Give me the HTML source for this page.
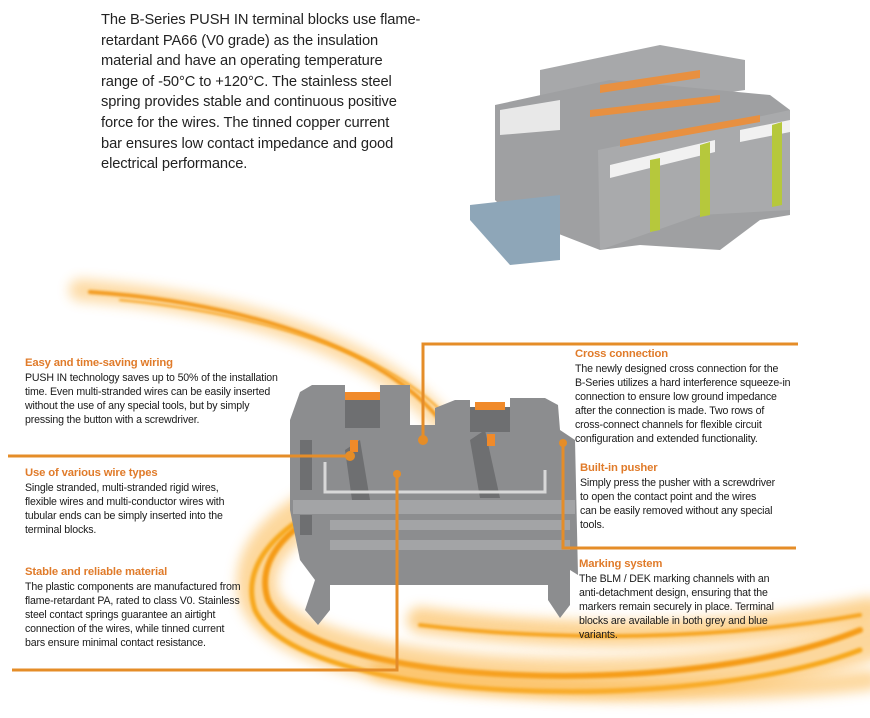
<!DOCTYPE html>
<html><head><meta charset="utf-8"><style>
body{margin:0;background:#fff;}
#w{position:relative;width:870px;height:718px;overflow:hidden;background:#fff;font-family:"Liberation Sans",sans-serif;}
.intro{position:absolute;left:101px;top:10px;font-size:14.7px;line-height:20.6px;color:#222;white-space:nowrap;letter-spacing:-0.1px;}
.b{position:absolute;font-size:10.6px;line-height:14px;color:#1a1a1a;white-space:nowrap;letter-spacing:-0.15px;}
.b h{display:block;color:#e07b2a;font-weight:bold;font-size:11.3px;line-height:14px;margin-bottom:1px;}
svg{position:absolute;left:0;top:0}
</style></head><body><div id="w">
<svg width="870" height="718" viewBox="0 0 870 718">
<defs>
<filter id="bl" filterUnits="userSpaceOnUse" x="0" y="0" width="870" height="718"><feGaussianBlur stdDeviation="6"/></filter>
<filter id="bl2" filterUnits="userSpaceOnUse" x="0" y="0" width="870" height="718"><feGaussianBlur stdDeviation="1.2"/></filter>
</defs>
<g fill="none" stroke-linecap="round">
<path d="M80 290 C200 300 360 330 440 420" stroke="#fbb03b" stroke-width="22" opacity=".45" filter="url(#bl)"/>
<path d="M90 292 C210 300 370 335 440 420" stroke="#f39a1e" stroke-width="4" filter="url(#bl2)"/>
<path d="M120 300 C240 312 380 345 445 415" stroke="#f7a21b" stroke-width="2" filter="url(#bl2)"/>
<path d="M870 640 C700 700 300 690 260 600 C240 540 320 500 380 480" stroke="#fbb03b" stroke-width="40" opacity=".5" filter="url(#bl)"/>
<path d="M860 630 C690 700 310 690 268 600 C250 545 320 505 380 485" stroke="#f59b12" stroke-width="6" filter="url(#bl2)"/>
<path d="M860 650 C690 715 300 705 255 610 C235 550 310 505 370 488" stroke="#f7a81e" stroke-width="5" filter="url(#bl2)"/>
<path d="M870 610 C720 640 560 640 420 620" stroke="#fbb03b" stroke-width="26" opacity=".55" filter="url(#bl)"/>
<path d="M860 615 C720 640 560 642 420 625" stroke="#f6a520" stroke-width="4" filter="url(#bl2)"/>
<path d="M870 680 C700 700 500 690 380 670" stroke="#fbb03b" stroke-width="20" opacity=".5" filter="url(#bl)"/>
</g>
<g fill="#8c8d8f">
<path d="M300 392 L312 385 L345 385 L345 398 L380 398 L380 385 L410 385 L410 425 L435 425 L435 408 L455 400 L470 400 L470 407 L510 407 L510 398 L545 398 L558 405 L560 430 L575 440 L578 575 L570 570 L570 605 L560 618 L548 600 L548 585 L330 585 L330 610 L318 625 L305 610 L315 580 L300 560 L290 510 L290 420 Z"/>
</g>
<g fill="#a3a4a6">
<rect x="293" y="500" width="282" height="14"/>
<rect x="330" y="520" width="240" height="10"/>
<rect x="330" y="540" width="240" height="10"/>
</g>
<g fill="#6e6f71">
<rect x="345" y="398" width="35" height="30"/>
<rect x="470" y="407" width="40" height="25"/>
<path d="M345 450 L360 440 L370 500 L352 500 Z"/>
<path d="M470 440 L485 430 L500 498 L480 498 Z"/>
<rect x="300" y="440" width="12" height="50"/>
<rect x="300" y="515" width="12" height="20"/>
</g>
<rect x="345" y="392" width="35" height="8" fill="#f08a2a"/>
<rect x="475" y="402" width="30" height="8" fill="#f08a2a"/>
<rect x="350" y="440" width="8" height="12" fill="#f08a2a"/>
<rect x="487" y="434" width="8" height="12" fill="#f08a2a"/>
<path d="M325 462 L325 492 L545 492 L545 470" fill="none" stroke="#d8d8d8" stroke-width="3"/>
<g>
<path d="M540 70 L660 45 L745 60 L745 90 L540 120 Z" fill="#a7a8aa"/>
<path d="M495 105 L610 80 L770 95 L790 110 L790 215 L760 220 L720 250 L640 245 L600 250 L510 215 L495 200 Z" fill="#9fa0a2"/>
<path d="M598 150 L720 125 L790 110 L790 210 L700 215 L600 250 Z" fill="#a9aaac"/>
<path d="M470 205 L560 195 L560 260 L510 265 L470 220 Z" fill="#8ea6b8"/>
<path d="M500 110 L560 100 L560 130 L500 135 Z" fill="#e8e8e8"/>
<path d="M610 165 L715 140 L715 152 L610 178 Z" fill="#f1f1f1"/>
<path d="M740 130 L790 120 L790 132 L740 142 Z" fill="#f1f1f1"/>
<path d="M650 160 L660 158 L660 230 L650 232 Z" fill="#b6c83c"/>
<path d="M700 145 L710 142 L710 215 L700 217 Z" fill="#b6c83c"/>
<path d="M772 125 L782 122 L782 205 L772 207 Z" fill="#b6c83c"/>
<path d="M600 85 L700 70 L700 78 L600 93 Z" fill="#e89040"/>
<path d="M590 110 L720 95 L720 102 L590 117 Z" fill="#e89040"/>
<path d="M620 140 L760 115 L760 122 L620 147 Z" fill="#e89040"/>
</g>
<g stroke="#e58d28" stroke-width="3" fill="none">
<path d="M423 437 L423 344 L798 344"/>
<path d="M8 456 L350 456"/>
<path d="M563 443 L563 548 L796 548"/>
<path d="M397 474 L397 670 L12 670"/>
</g>
<g fill="#e58d28">
<circle cx="423" cy="440" r="5"/><circle cx="350" cy="456" r="5"/>
<circle cx="563" cy="443" r="4"/><circle cx="397" cy="474" r="4"/>
</g>
</svg>
<div class="intro">The B-Series PUSH IN terminal blocks use flame-<br>retardant PA66 (V0 grade) as the insulation<br>material and have an operating temperature<br>range of -50°C to +120°C. The stainless steel<br>spring provides stable and continuous positive<br>force for the wires. The tinned copper current<br>bar ensures low contact impedance and good<br>electrical performance.</div>
<div class="b" style="left:25px;top:356px"><h>Easy and time-saving wiring</h>PUSH IN technology saves up to 50% of the installation<br>time. Even multi-stranded wires can be easily inserted<br>without the use of any special tools, but by simply<br>pressing the button with a screwdriver.</div>
<div class="b" style="left:25px;top:466px"><h>Use of various wire types</h>Single stranded, multi-stranded rigid wires,<br>flexible wires and multi-conductor wires with<br>tubular ends can be simply inserted into the<br>terminal blocks.</div>
<div class="b" style="left:25px;top:565px"><h>Stable and reliable material</h>The plastic components are manufactured from<br>flame-retardant PA, rated to class V0. Stainless<br>steel contact springs guarantee an airtight<br>connection of the wires, while tinned current<br>bars ensure minimal contact resistance.</div>
<div class="b" style="left:575px;top:347px"><h>Cross connection</h>The newly designed cross connection for the<br>B-Series utilizes a hard interference squeeze-in<br>connection to ensure low ground impedance<br>after the connection is made. Two rows of<br>cross-connect channels for flexible circuit<br>configuration and extended functionality.</div>
<div class="b" style="left:580px;top:461px"><h>Built-in pusher</h>Simply press the pusher with a screwdriver<br>to open the contact point and the wires<br>can be easily removed without any special<br>tools.</div>
<div class="b" style="left:579px;top:557px"><h>Marking system</h>The BLM / DEK marking channels with an<br>anti-detachment design, ensuring that the<br>markers remain securely in place. Terminal<br>blocks are available in both grey and blue<br>variants.</div>
</div></body></html>
